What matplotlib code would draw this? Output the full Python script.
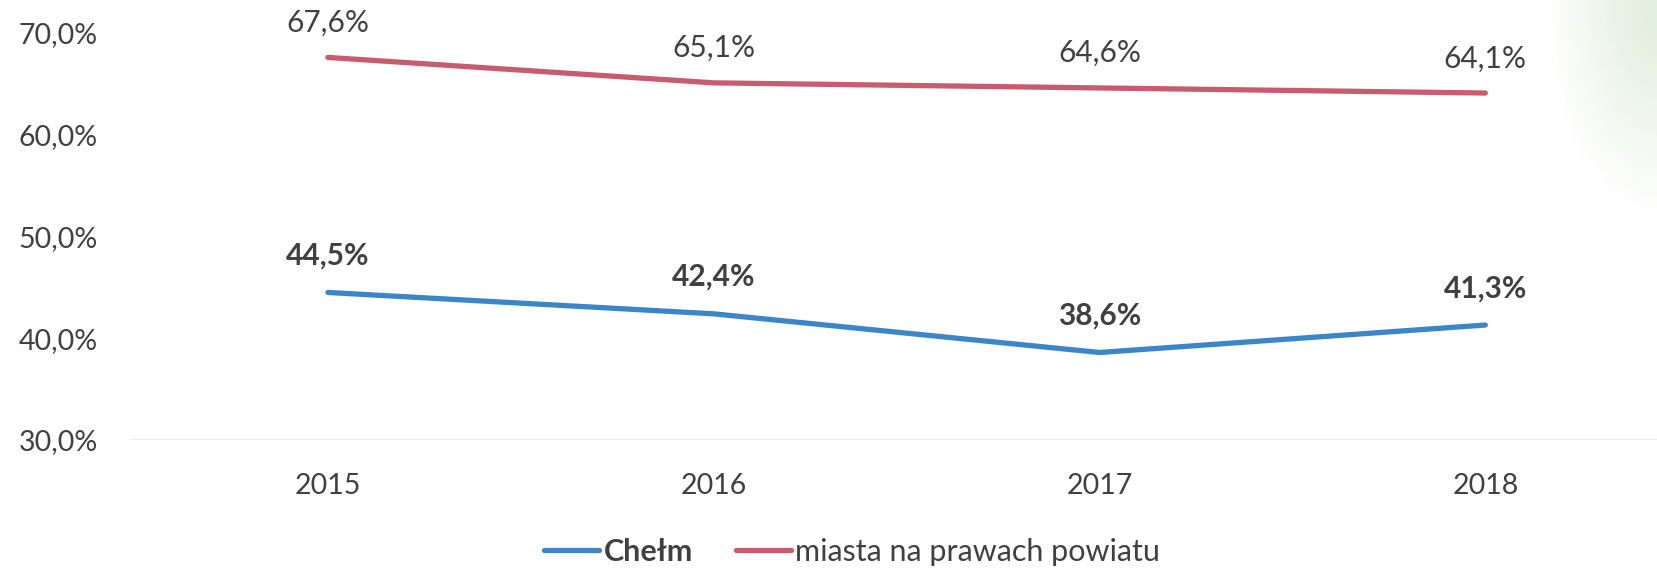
import numpy as np
import matplotlib
matplotlib.use('Agg')
import matplotlib.pyplot as plt
from matplotlib.lines import Line2D

# ── Data ──────────────────────────────────────────────────────────────────────
years = ['2015', '2016', '2017', '2018']
chelm = [44.5, 42.4, 38.6, 41.3]
miasta = [67.6, 65.1, 64.6, 64.1]
series_names = ['Chełm', 'miasta na prawach powiatu']

BLUE = '#3b86c9'
RED = '#c95b6e'
TXT = '#404040'

plt.rcParams['font.family'] = ['Lato', 'DejaVu Sans']

W, H = 1657, 568
fig = plt.figure(figsize=(W / 100, H / 100), dpi=100)
fig.patch.set_facecolor('white')

# ── faint green tint in the top right corner (scan artefact) ─────────────────
bg = fig.add_axes([0, 0, 1, 1], zorder=0)
gx, gy = np.meshgrid(np.linspace(0, 1, 400), np.linspace(0, 1, 140))
d = np.sqrt(((gx - 1.0) / 0.06) ** 2 + ((gy - 1.0) / 0.35) ** 2)
img = np.zeros((140, 400, 4))
img[..., 0] = 0.86
img[..., 1] = 0.92
img[..., 2] = 0.84
img[..., 3] = np.clip(1.1 - d, 0, 1) * 0.8
bg.imshow(img, extent=[0, 1, 0, 1], origin='lower', aspect='auto')
bg.set_axis_off()

# ── Main axes ─────────────────────────────────────────────────────────────────
left, right = 130 / W, 1.0
bottom, top = 1 - 440 / H, 1 - 33 / H
ax = fig.add_axes([left, bottom, right - left, top - bottom], zorder=1)
ax.patch.set_alpha(0)

x = np.arange(len(years))
ax.plot(x, miasta, color=RED, lw=3.8, solid_capstyle='round', zorder=3)
ax.plot(x, chelm, color=BLUE, lw=3.8, solid_capstyle='round', zorder=3)

for xi, v in zip(x, miasta):
    ax.annotate(f'{v:.1f}%'.replace('.', ','), (xi, v), xytext=(0, 25),
                textcoords='offset points', ha='center', va='center',
                fontsize=21.5, color=TXT, annotation_clip=False)
for xi, v in zip(x, chelm):
    ax.annotate(f'{v:.1f}%'.replace('.', ','), (xi, v), xytext=(0, 26.5),
                textcoords='offset points', ha='center', va='center',
                fontsize=21.5, fontweight='bold', color=TXT, annotation_clip=False)

ax.set_xlim(-0.513, 3.445)
ax.set_ylim(30, 70)
ax.set_yticks([30, 40, 50, 60, 70])
ax.set_yticklabels([f'{t:.1f}%'.replace('.', ',') for t in [30, 40, 50, 60, 70]])
ax.set_xticks(x)
ax.set_xticklabels(years)
ax.tick_params(axis='both', length=0, labelsize=20.5, labelcolor=TXT)
ax.tick_params(axis='y', pad=23)
ax.tick_params(axis='x', pad=24)

for s in ax.spines.values():
    s.set_visible(False)
ax.axhline(30, color='#ececec', lw=1.2, zorder=1)

# ── Legend ────────────────────────────────────────────────────────────────────
handles = [Line2D([], [], color=BLUE, lw=3.8, solid_capstyle='round'),
           Line2D([], [], color=RED, lw=3.8, solid_capstyle='round')]
leg = fig.legend(handles, series_names, loc='center', bbox_to_anchor=(852 / W, 1 - 552 / H),
                 ncol=2, frameon=False, fontsize=22, handlelength=1.8,
                 handletextpad=0.15, columnspacing=1.4, labelcolor=TXT)
leg.get_texts()[0].set_fontweight('bold')

fig.savefig('out.png', dpi=100, facecolor='white')
